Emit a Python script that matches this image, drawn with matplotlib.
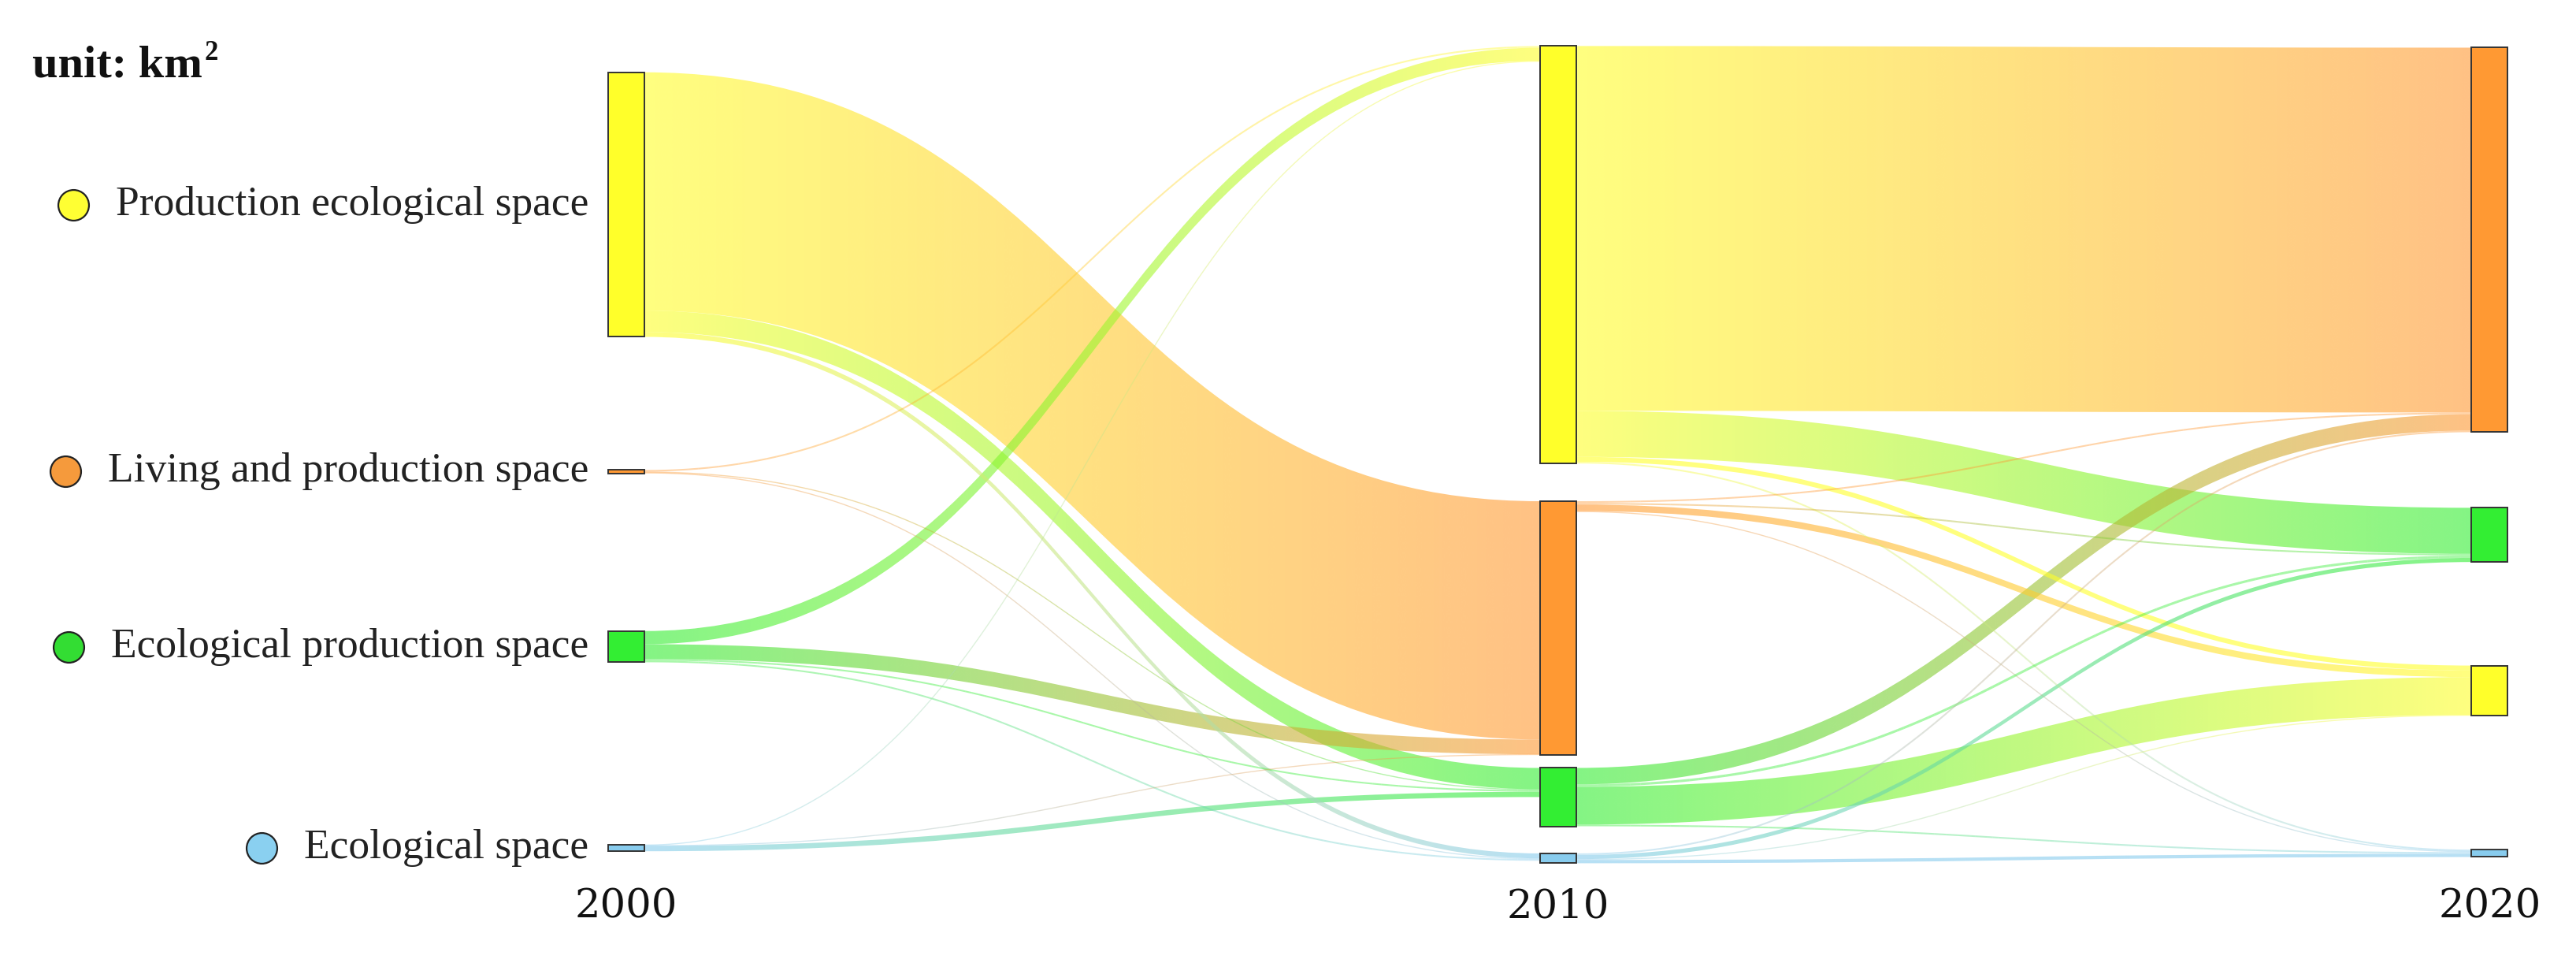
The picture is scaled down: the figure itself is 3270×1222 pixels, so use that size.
import numpy as np
import matplotlib
matplotlib.use('Agg')
import matplotlib.pyplot as plt
from matplotlib.path import Path
from matplotlib.patches import PathPatch, Rectangle
from matplotlib.collections import LineCollection
from matplotlib.colors import to_rgba

# ---------------- data ----------------
years = ['2000', '2010', '2020']
codes = ['PE', 'LP', 'EP', 'E']
category_labels = ['Production ecological space', 'Living and production space',
                   'Ecological production space', 'Ecological space']
node_colors = {'PE': '#FFFF2A', 'LP': '#FF9933', 'EP': '#33EE33', 'E': '#88CCEE'}
legend_colors = {'PE': '#FFFF33', 'LP': '#F59A3C', 'EP': '#33DD33', 'E': '#8AD0F0'}
column_order = [['PE', 'LP', 'EP', 'E'], ['PE', 'LP', 'EP', 'E'], ['LP', 'EP', 'PE', 'E']]

src_2000 = ['PE', 'PE', 'PE', 'LP', 'LP', 'LP', 'EP', 'EP', 'EP', 'EP', 'E', 'E', 'E']
tgt_2010 = ['LP', 'EP', 'E', 'PE', 'EP', 'E', 'PE', 'LP', 'EP', 'E', 'PE', 'LP', 'EP']
val_2000_2010 = [145, 13, 3, 1, 0.5, 0.5, 8, 9, 1, 1, 0.5, 0.3, 3.2]

# flows 2010 -> 2020
src_2010 = ['PE', 'PE', 'PE', 'PE', 'LP', 'LP', 'LP', 'LP', 'EP', 'EP', 'EP', 'EP', 'E', 'E', 'E', 'E']
tgt_2020 = ['LP', 'EP', 'PE', 'E', 'LP', 'EP', 'PE', 'E', 'LP', 'EP', 'PE', 'E', 'LP', 'EP', 'PE', 'E']
val_2010_2020 = [222, 28, 3, 1, 1, 1, 4, 0.5, 10, 1.5, 23, 1, 1, 2.5, 0.5, 2]

transitions = [(src_2000, tgt_2010, val_2000_2010), (src_2010, tgt_2020, val_2010_2020)]

# ---------------- layout ----------------
col_x = [0.0, 1.0, 2.0]
node_w = 0.039
col_top = [44, 28, 29]
col_gaps = [[81, 96, 111], [23, 8, 16.5], [46, 63, 81.5]]
link_alpha = 0.6
thin_alpha = 0.42

fig = plt.figure(figsize=(32.7, 12.22), dpi=100)
ax = fig.add_axes([0, 0, 1, 1])
ax.set_xlim(-0.672, 2.0927)
ax.set_ylim(586, 0)
ax.axis('off')

# node values = max(inflow, outflow)
ncol = len(years)
inflow = [{k: 0.0 for k in codes} for _ in range(ncol)]
outflow = [{k: 0.0 for k in codes} for _ in range(ncol)]
for c, (ss, tt, vv) in enumerate(transitions):
    for s, t, v in zip(ss, tt, vv):
        outflow[c][s] += v
        inflow[c + 1][t] += v
node_val = [{k: max(inflow[c][k], outflow[c][k]) for k in codes} for c in range(ncol)]

node_y0 = [{} for _ in range(ncol)]
for c in range(ncol):
    y = col_top[c]
    for i, k in enumerate(column_order[c]):
        node_y0[c][k] = y
        y += node_val[c][k]
        if i < len(col_gaps[c]):
            y += col_gaps[c][i]

# link positions (stacked from node top, sorted by opposite node position)
links = []
for c, (ss, tt, vv) in enumerate(transitions):
    idx = list(range(len(vv)))
    s_off = {k: node_y0[c][k] for k in codes}
    t_off = {k: node_y0[c + 1][k] for k in codes}
    s_pos, t_pos = {}, {}
    for i in sorted(idx, key=lambda i: node_y0[c + 1][tt[i]]):
        s_pos[i] = s_off[ss[i]]
        s_off[ss[i]] += vv[i]
    for i in sorted(idx, key=lambda i: node_y0[c][ss[i]]):
        t_pos[i] = t_off[tt[i]]
        t_off[tt[i]] += vv[i]
    for i in idx:
        links.append(dict(c=c, s=ss[i], t=tt[i], v=vv[i], sy=s_pos[i], ty=t_pos[i]))


def bezier(x0, y0, x1, y1, n=120):
    xm = (x0 + x1) / 2
    t = np.linspace(0, 1, n)
    bx = (1 - t) ** 3 * x0 + 3 * (1 - t) ** 2 * t * xm + 3 * (1 - t) * t ** 2 * xm + t ** 3 * x1
    by = (1 - t) ** 3 * y0 + 3 * (1 - t) ** 2 * t * y0 + 3 * (1 - t) * t ** 2 * y1 + t ** 3 * y1
    return bx, by


thick = sorted([l for l in links if l['v'] >= 2], key=lambda l: -l['v'])
thin = [l for l in links if l['v'] < 2]

for l in thick:
    xs = col_x[l['c']] + node_w / 2
    xt = col_x[l['c'] + 1] - node_w / 2
    xm = (xs + xt) / 2
    sy0, ty0 = l['sy'], l['ty']
    sy1, ty1 = sy0 + l['v'], ty0 + l['v']
    verts = [(xs, sy0), (xm, sy0), (xm, ty0), (xt, ty0), (xt, ty1),
             (xm, ty1), (xm, sy1), (xs, sy1), (xs, sy0)]
    cds = [Path.MOVETO, Path.CURVE4, Path.CURVE4, Path.CURVE4, Path.LINETO,
           Path.CURVE4, Path.CURVE4, Path.CURVE4, Path.CLOSEPOLY]
    path = Path(verts, cds)
    patch = PathPatch(path, transform=ax.transData, facecolor='none', edgecolor='none')
    c0 = np.array(to_rgba(node_colors[l['s']]))
    c1 = np.array(to_rgba(node_colors[l['t']]))
    tt_ = np.linspace(0, 1, 256)[:, None]
    grad = c0 * (1 - tt_) + c1 * tt_
    grad[:, 3] = link_alpha
    img = np.stack([grad, grad])
    ymin = min(sy0, ty0) - 1
    ymax = max(sy1, ty1) + 1
    im = ax.imshow(img, extent=(xs, xt, ymax, ymin), aspect='auto',
                   interpolation='bilinear', zorder=1)
    im.set_clip_path(patch)

px_per_unit = 1222 / 586
for l in thin:
    xs = col_x[l['c']] + node_w / 2
    xt = col_x[l['c'] + 1] - node_w / 2
    bx, by = bezier(xs, l['sy'] + l['v'] / 2, xt, l['ty'] + l['v'] / 2)
    pts = np.column_stack([bx, by])
    segs = np.stack([pts[:-1], pts[1:]], axis=1)
    c0 = np.array(to_rgba(node_colors[l['s']]))
    c1 = np.array(to_rgba(node_colors[l['t']]))
    tt_ = np.linspace(0, 1, len(segs))[:, None]
    cols = c0 * (1 - tt_) + c1 * tt_
    cols[:, 3] = thin_alpha
    lw = max(l['v'] * px_per_unit * 72 / 100, 1.0)
    lc = LineCollection(segs, colors=cols, linewidths=lw, zorder=2, capstyle='butt')
    ax.add_collection(lc)

# nodes
for c in range(ncol):
    for k in column_order[c]:
        ax.add_patch(Rectangle((col_x[c] - node_w / 2, node_y0[c][k]), node_w, node_val[c][k],
                               facecolor=node_colors[k], edgecolor='#333333', lw=1.4, zorder=3))

# year labels
for c, yr in enumerate(years):
    ax.text(col_x[c], 552, yr, ha='center', va='center', fontsize=37,
            family='DejaVu Serif', color='#111111', zorder=4)

# category labels (left of 2000 column)
label_texts = []
for k, lab in zip(codes, category_labels):
    yc = node_y0[0][k] + node_val[0][k] / 2
    t = ax.text(-node_w / 2 - 0.021, yc, lab, ha='right', va='center', fontsize=38.5,
                family='Liberation Serif', color='#222222', zorder=4)
    label_texts.append((k, t, yc))

unit_t = ax.text(-0.637, 40, 'unit: km', ha='left', va='center', fontsize=42,
                 family='Liberation Serif', fontweight='bold', color='#111111', zorder=4)

fig.canvas.draw()
inv = ax.transData.inverted()
for k, t, yc in label_texts:
    bb = t.get_window_extent()
    xd = inv.transform((bb.x0 - 54, 0))[0]
    ax.plot([xd], [yc], 'o', ms=28, mfc=legend_colors[k], mec='#222222', mew=1.6, zorder=5)

bb = unit_t.get_window_extent()
sx, sy = inv.transform((bb.x1 + 2, bb.y1 + 6))
ax.text(sx, sy, '2', ha='left', va='top', fontsize=25, family='Liberation Serif',
        fontweight='bold', color='#111111', zorder=4)

fig.savefig('out.png', dpi=100, facecolor='white')
